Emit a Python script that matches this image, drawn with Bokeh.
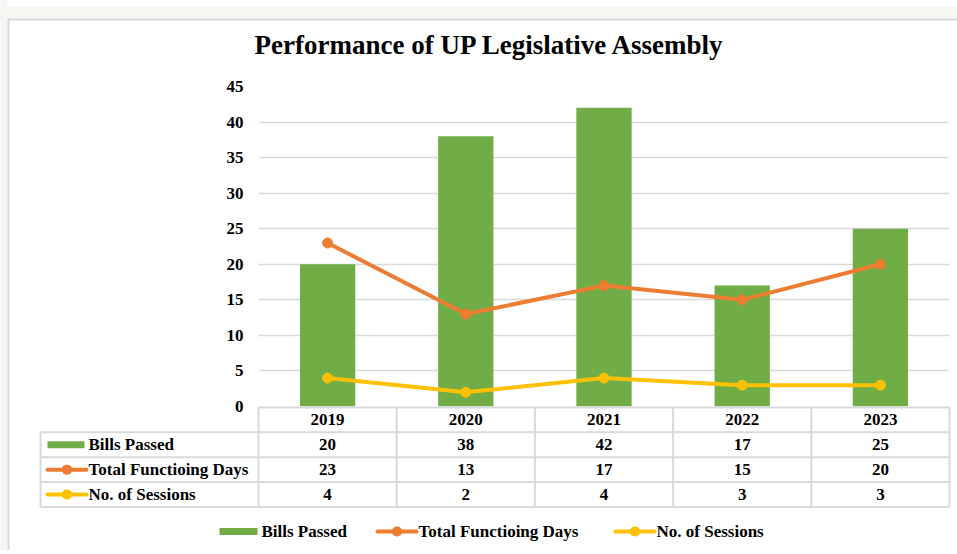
from bokeh.plotting import figure
from bokeh.models import Range1d, FactorRange, FixedTicker
from bokeh.embed import file_html
from bokeh.resources import INLINE
from bokeh.core.properties import value

# ---------------- data ----------------
years = ["2019", "2020", "2021", "2022", "2023"]
bills_passed = [20, 38, 42, 17, 25]
functioning_days = [23, 13, 17, 15, 20]
sessions = [4, 2, 4, 3, 3]
series_names = ["Bills Passed", "Total Functioing Days", "No. of Sessions"]
y_ticks = [0, 5, 10, 15, 20, 25, 30, 35, 40, 45]
title_text = "Performance of UP Legislative Assembly"

# ---------------- style / layout ----------------
GREEN = "#70ad47"
ORANGE = "#ed7d31"
YELLOW = "#ffc000"
GRID = "#d9d9d9"
PAGE = "#f7f6f2"
FONT = "Liberation Serif"
FS = "17px"

W, H = 957, 550
ORG = 0                      # observed figure origin on screen
FRAME_L, FRAME_R = 258, 8
FRAME_T = 81
frame_h = 325
FRAME_B = H - FRAME_T - frame_h
frame_w = W - FRAME_L - FRAME_R
n = len(years)
col_px = frame_w / n
ROW_H = 25.25
TABLE_TOP = ORG + FRAME_T + frame_h + 1   # screen y of table top border
frame_bottom_s = ORG + FRAME_T + frame_h
frame_top_s = ORG + FRAME_T


def row_at(sy):
    return (sy - TABLE_TOP) / ROW_H - 0.5


p = figure(width=W, height=H, x_range=FactorRange(*years), y_range=Range1d(0, 45),
           output_backend="svg", toolbar_location=None,
           min_border_left=FRAME_L, min_border_right=FRAME_R,
           min_border_top=FRAME_T, min_border_bottom=FRAME_B,
           x_axis_location=None, y_axis_location="left", title=title_text)

p.extra_y_ranges = {"tbl": Range1d(start=row_at(frame_bottom_s), end=row_at(frame_top_s))}

p.title.text_font = FONT
p.title.text_font_size = "27px"
p.title.text_font_style = "bold"
p.title.text_color = "black"
p.title.align = "left"
p.title.offset = -4
p.title.standoff = 54

p.yaxis.ticker = FixedTicker(ticks=y_ticks)
p.yaxis.axis_line_color = None
p.yaxis.major_tick_line_color = None
p.yaxis.minor_tick_line_color = None
p.yaxis.major_tick_out = 0
p.yaxis.major_tick_in = 0
p.yaxis.major_label_standoff = 15
p.yaxis.major_label_text_font = FONT
p.yaxis.major_label_text_font_size = FS
p.yaxis.major_label_text_font_style = "bold"
p.yaxis.major_label_text_color = "black"

p.xgrid.grid_line_color = None
p.ygrid.grid_line_color = GRID
p.ygrid.grid_line_width = 1.5
p.outline_line_color = None

p.vbar(x=years, top=bills_passed, width=0.4, fill_color=GREEN, line_color=None)
p.line(x=years, y=functioning_days, line_color=ORANGE, line_width=4, line_cap="round", line_join="round")
p.scatter(x=years, y=functioning_days, size=10, fill_color=ORANGE, line_color=ORANGE)
p.line(x=years, y=sessions, line_color=YELLOW, line_width=4, line_cap="round", line_join="round")
p.scatter(x=years, y=sessions, size=10, fill_color=YELLOW, line_color=YELLOW)

# ---------------- data table under the plot ----------------
# numeric x on the categorical range = synthetic coordinates (factor i centred at i + 0.5)
LBL_PX = 218
lbl_w = LBL_PX / col_px
T = dict(y_range_name="tbl", level="overlay")


def ux(sx):
    """absolute screen x -> synthetic x units of the category axis"""
    return (sx - ORG - FRAME_L) / col_px


def dot(cx, cy, c):
    # round-capped, near-zero-length stroke = 10px dot (markers outside the frame get culled)
    d = 0.2 / col_px
    p.segment(x0=[cx - d], y0=[cy], x1=[cx + d], y1=[cy], line_color=c, line_width=10,
              line_cap="round", **T)


# page chrome (screenshot frame of the original)
p.rect(x=[ux(W / 2)], y=[row_at(6)], width=(W + 20) / col_px, height=12, height_units="screen",
       fill_color=PAGE, line_color=None, **T)
p.rect(x=[ux(3.5)], y=[row_at(H / 2)], width=7 / col_px, height=H + 20, height_units="screen",
       fill_color=PAGE, line_color=None, **T)
p.segment(x0=[ux(7)], y0=[row_at(13)], x1=[ux(W + 5)], y1=[row_at(13)], line_color=GRID, line_width=2, **T)
p.segment(x0=[ux(8)], y0=[row_at(12)], x1=[ux(8)], y1=[row_at(H + 5)], line_color=GRID, line_width=2, **T)

nrows = len(series_names)
x0s, y0s, x1s, y1s = [], [], [], []
x0s.append(0); y0s.append(-0.5); x1s.append(n); y1s.append(-0.5)
for r in range(nrows + 1):
    x0s.append(-lbl_w); y0s.append(r + 0.5); x1s.append(n); y1s.append(r + 0.5)
x0s.append(-lbl_w); y0s.append(0.5); x1s.append(-lbl_w); y1s.append(nrows + 0.5)
for k in range(n + 1):
    x0s.append(k); y0s.append(-0.5); x1s.append(k); y1s.append(nrows + 0.5)
p.segment(x0=x0s, y0=y0s, x1=x1s, y1=y1s, line_color=GRID, line_width=2, **T)

txt_kw = dict(text_font=value(FONT), text_font_size=FS, text_font_style="bold",
              text_color="black", text_baseline="middle")
p.text(x=years, y=[0] * n, text=years, text_align="center", **txt_kw, **T)
for r, vals in enumerate([bills_passed, functioning_days, sessions], start=1):
    p.text(x=years, y=[r] * n, text=[str(v) for v in vals], text_align="center", **txt_kw, **T)

# row labels with their keys
p.text(x=[ux(88)] * nrows, y=list(range(1, nrows + 1)), text=series_names, text_align="left", **txt_kw, **T)
p.rect(x=[ux(65.5)], y=[1], width=37 / col_px, height=7, height_units="screen",
       fill_color=GREEN, line_color=None, **T)
for r, c in [(2, ORANGE), (3, YELLOW)]:
    p.segment(x0=[ux(47)], y0=[r], x1=[ux(86)], y1=[r], line_color=c, line_width=4, line_cap="round", **T)
    dot(ux(66.5), r, c)

# ---------------- legend at the bottom ----------------
LY = row_at(533)
leg_key_left = [219, 376, 614]
leg_colors = [GREEN, ORANGE, YELLOW]
for i, (name, c) in enumerate(zip(series_names, leg_colors)):
    kl = leg_key_left[i]
    if i == 0:
        p.rect(x=[ux(kl + 19)], y=[LY], width=38 / col_px, height=7, height_units="screen",
               fill_color=c, line_color=None, **T)
    else:
        p.segment(x0=[ux(kl + 1)], y0=[LY], x1=[ux(kl + 40)], y1=[LY], line_color=c, line_width=4,
                  line_cap="round", **T)
        dot(ux(kl + 20.5), LY, c)
    p.text(x=[ux(kl + 42)], y=[LY], text=[name], text_align="left", **txt_kw, **T)

open("out.html", "w").write(file_html(p, INLINE))
